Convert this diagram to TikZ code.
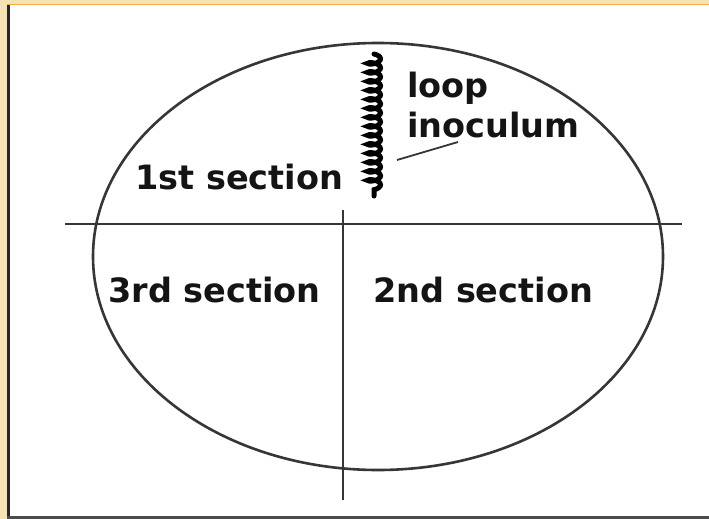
\documentclass[tikz,border=0pt]{standalone}
\usepackage{fontspec}
\setmainfont{DejaVu Sans}
\usetikzlibrary{decorations.pathmorphing}
\definecolor{frameYellow}{HTML}{F6E3B4}
\definecolor{frameOrange}{HTML}{EFAE45}
\definecolor{inkGray}{HTML}{363636}

\begin{document}
\begin{tikzpicture}[x=1pt,y=-1pt,
    seclabel/.style={font=\fontsize{33.5}{36}\selectfont\bfseries,text=black!92,inner sep=0pt,anchor=base west},
    rule/.style={draw=inkGray,line width=2.8pt},
    pointer/.style={draw=inkGray,line width=1.8pt}]
  \useasboundingbox (0,0) rectangle (709,519);
  % slide frame
  \fill[frameYellow] (0,0) rectangle (709,519);
  \fill[white] (7,5) rectangle (709,516);
  \draw[frameOrange,line width=1.6pt] (7,4.6) -- (709,4.6);
  \draw[black!85,line width=3pt] (8.5,5) -- (8.5,519);
  \draw[black!70,line width=3pt] (7,517.5) -- (709,517.5);
  % plate and section lines
  \draw[inkGray,line width=2.6pt] (378,256.5) ellipse [x radius=285pt,y radius=213.5pt];
  \coordinate (hl) at (65,224);
  \coordinate (hr) at (682,224);
  \coordinate (vt) at (343,210);
  \coordinate (vb) at (343,500);
  \draw[rule] (hl) -- (hr);
  \draw[rule] (vt) -- (vb);
  % loop streak
  \coordinate (streakTop) at (374,54);
  \coordinate (streakBot) at (374,196);
  \draw[black,line width=5pt,line cap=round,decorate,
        decoration={coil,amplitude=6.5pt,segment length=9pt,aspect=0.4}]
    (streakTop) -- (streakBot);
  % labels
  \node[seclabel] (sec1) at (135,189) {1st section};
  \node[seclabel] (sec3) at (108,302) {3rd section};
  \node[seclabel] (sec2) at (373,302) {2nd section};
  \node[seclabel] (loop) at (407,97) {loop};
  \node[seclabel] (inoc) at (407,137) {inoculum};
  \coordinate (tip) at (458,142);
  \coordinate (streakPt) at (397,160);
  \draw[pointer] (tip) -- (streakPt);
\end{tikzpicture}
\end{document}
